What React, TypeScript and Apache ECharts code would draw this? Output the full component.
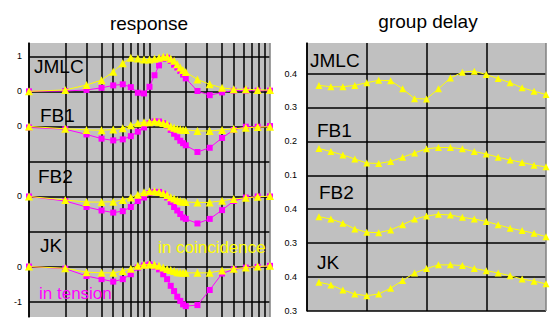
import React, { useEffect, useRef } from "react";
import * as echarts from "echarts";

// ---------- response panel (log frequency axis) ----------
const respFreq = [1, 2, 3, 4, 5, 6, 7, 8, 9, 10, 11, 12, 13, 14, 15, 16, 17, 18, 19, 20, 25, 31.6, 40, 50, 63, 79, 100];

const jmlcCoinc = [0, 0.04, 0.18, 0.32, 0.56, 0.8, 0.96, 0.94, 0.91, 0.91, 0.93, 0.96, 0.99, 0.99, 0.93, 0.87, 0.77, 0.68, 0.61, 0.55, 0.34, 0.2, 0.1, 0.06, 0.06, 0.04, 0.04];
const jmlcTens = [0, 0.01, 0.04, 0.1, 0.17, 0.2, 0.12, -0.04, -0.06, 0.13, 0.46, 0.74, 0.93, 0.96, 0.87, 0.76, 0.68, 0.58, 0.48, 0.37, 0.01, -0.11, -0.03, 0.02, 0.02, 0.02, 0.02];

const fb1Coinc = [0, -0.07, -0.1, -0.11, -0.09, -0.05, 0.03, 0.09, 0.12, 0.12, 0.15, 0.12, 0.1, 0.06, 0.0, -0.04, -0.07, -0.08, -0.1, -0.1, -0.13, -0.13, -0.1, -0.07, -0.04, -0.02, -0.01];
const fb1Tens = [-0.03, -0.08, -0.23, -0.35, -0.4, -0.37, -0.28, -0.15, -0.03, 0.09, 0.14, 0.14, 0.09, 0.02, -0.1, -0.21, -0.31, -0.41, -0.48, -0.54, -0.73, -0.61, -0.33, -0.1, -0.01, -0.01, 0.01];

const fb2Coinc = [0, -0.1, -0.16, -0.16, -0.15, -0.1, -0.03, 0.05, 0.12, 0.15, 0.15, 0.13, 0.09, 0.04, -0.02, -0.06, -0.1, -0.13, -0.15, -0.16, -0.17, -0.17, -0.12, -0.07, -0.04, -0.01, 0.01];
const fb2Tens = [0, -0.13, -0.3, -0.4, -0.46, -0.42, -0.3, -0.13, -0.03, 0.1, 0.13, 0.13, 0.08, -0.03, -0.16, -0.3, -0.4, -0.5, -0.6, -0.64, -0.77, -0.64, -0.39, -0.13, -0.03, 0, 0];

const jkCoinc = [0, -0.05, -0.16, -0.18, -0.18, -0.13, -0.06, 0.02, 0.05, 0.06, 0.05, 0.02, -0.03, -0.07, -0.1, -0.13, -0.16, -0.17, -0.18, -0.18, -0.18, -0.18, -0.11, -0.06, -0.03, 0, 0.02];
const jkTens = [0, -0.06, -0.27, -0.36, -0.43, -0.36, -0.22, -0.03, 0.03, 0.06, 0.0, -0.08, -0.22, -0.36, -0.55, -0.7, -0.86, -0.98, -1.08, -1.13, -1.1, -0.67, -0.2, -0.08, -0.03, -0.01, 0.02];

const respGridFreqs = [1, 2, 3, 4, 5, 6, 7, 8, 9, 10, 20, 30, 40, 50, 60, 70, 80, 90, 100];
const respTickValues = [1, 0, -1, -3, -5, -6];
const respTickLabels = ["1", "0", "0", "0", "0", "-1"];

// ---------- group delay panel ----------
const gdIndex = [1, 2, 3, 4, 5, 6, 7, 8, 9, 10, 11, 12, 13, 14, 15, 16, 17, 18, 19, 20];
const gdJmlc = [0.365, 0.361, 0.361, 0.365, 0.373, 0.38, 0.379, 0.355, 0.326, 0.325, 0.355, 0.387, 0.404, 0.407, 0.397, 0.385, 0.373, 0.358, 0.348, 0.338];
const gdFb1 = [0.179, 0.17, 0.16, 0.148, 0.136, 0.135, 0.141, 0.153, 0.166, 0.178, 0.182, 0.182, 0.178, 0.17, 0.163, 0.153, 0.145, 0.138, 0.13, 0.125];
const gdFb2 = [0.378, 0.371, 0.359, 0.342, 0.332, 0.331, 0.339, 0.354, 0.371, 0.38, 0.385, 0.383, 0.376, 0.371, 0.364, 0.354, 0.344, 0.337, 0.329, 0.319];
const gdJk = [0.385, 0.377, 0.362, 0.35, 0.345, 0.35, 0.367, 0.39, 0.412, 0.425, 0.436, 0.436, 0.434, 0.425, 0.419, 0.412, 0.404, 0.394, 0.388, 0.38];
const gdTickLabels = ["0.3", "0.4", "0.3", "0.4", "0.1", "0.2", "0.3", "0.4"];

const names = ["JMLC", "FB1", "FB2", "JK"];

const YELLOW = "#FFFF00";
const MAGENTA = "#FF00FF";
const FONT = "'Liberation Sans', Arial, sans-serif";

export default function App() {
  const ref = useRef<HTMLDivElement>(null);

  useEffect(() => {
    if (!ref.current) return;
    const chart = echarts.init(ref.current, undefined, { renderer: "svg" });

    // stacked panels share one axis; each sub-plot is shifted by an offset
    const respSets = [
      { c: jmlcCoinc, t: jmlcTens, off: 0 },
      { c: fb1Coinc, t: fb1Tens, off: -1 },
      { c: fb2Coinc, t: fb2Tens, off: -3 },
      { c: jkCoinc, t: jkTens, off: -5 },
    ];
    const gdSets = [
      { d: gdJmlc, base: 0.3, off: 6 },
      { d: gdFb1, base: 0.1, off: 4 },
      { d: gdFb2, base: 0.3, off: 2 },
      { d: gdJk, base: 0.3, off: 0 },
    ];

    const series: any[] = [];
    respSets.forEach((s, k) => {
      series.push({
        type: "line",
        name: names[k] + " tension",
        xAxisIndex: 0,
        yAxisIndex: 0,
        data: respFreq.map((f, i) => [f, s.t[i] + s.off]),
        symbol: "rect",
        symbolSize: 6,
        itemStyle: { color: MAGENTA },
        lineStyle: { color: MAGENTA, width: 1 },
        z: 3,
      });
    });
    respSets.forEach((s, k) => {
      series.push({
        type: "line",
        name: names[k] + " coincidence",
        xAxisIndex: 0,
        yAxisIndex: 0,
        data: respFreq.map((f, i) => [f, s.c[i] + s.off]),
        symbol: "triangle",
        symbolSize: 8,
        itemStyle: { color: YELLOW },
        lineStyle: { color: YELLOW, width: 1 },
        z: 4,
      });
    });
    gdSets.forEach((s, k) => {
      series.push({
        type: "line",
        name: names[k] + " group delay",
        xAxisIndex: 1,
        yAxisIndex: 1,
        data: gdIndex.map((x, i) => [x, (s.d[i] - s.base) * 10 + s.off]),
        symbol: "triangle",
        symbolSize: 7,
        itemStyle: { color: YELLOW },
        lineStyle: { color: YELLOW, width: 1 },
        z: 4,
      });
    });

    const respLineColors = respGridFreqs.map((f) => (f === 100 ? "#808080" : "#000"));

    const label = (text: string, x: number, y: number, size: number, color = "#000", align = "left") => ({
      type: "text",
      x,
      y,
      z: 10,
      style: { text, fontSize: size, fontFamily: FONT, fill: color, textAlign: align, textVerticalAlign: "middle" },
    });

    chart.setOption({
      animation: false,
      backgroundColor: "#fff",
      grid: [
        { left: 29, top: 43, width: 241, height: 274, show: true, backgroundColor: "#C0C0C0", borderWidth: 0 },
        { left: 307, top: 43, width: 239, height: 268, show: true, backgroundColor: "#C0C0C0", borderWidth: 0 },
      ],
      xAxis: [
        {
          type: "log",
          logBase: 10,
          gridIndex: 0,
          min: 1,
          max: 100,
          axisLine: { show: false },
          axisLabel: { show: false },
          axisTick: { show: false, customValues: respGridFreqs },
          splitLine: { show: true, lineStyle: { color: respLineColors, width: 1.5 } },
        },
        {
          type: "value",
          gridIndex: 1,
          min: 0,
          max: 20,
          interval: 5,
          axisLine: { show: false },
          axisLabel: { show: false },
          axisTick: { show: false },
          splitLine: { show: true, lineStyle: { color: ["#000", "#000", "#000", "#000", "#808080"], width: 1.5 } },
        },
      ],
      yAxis: [
        {
          type: "value",
          gridIndex: 0,
          min: -6.44,
          max: 1.38,
          axisLine: { show: true, lineStyle: { color: "#000", width: 1.5 } },
          axisTick: { show: false, customValues: [1, 0, -1, -2, -3, -4, -5, -6] },
          axisLabel: {
            customValues: respTickValues,
            fontSize: 9,
            color: "#000",
            fontFamily: FONT,
            margin: 7,
            formatter: (v: number) => {
              const i = respTickValues.indexOf(Math.round(v));
              return i >= 0 ? respTickLabels[i] : "";
            },
          },
          splitLine: { show: true, lineStyle: { color: "#000", width: 1.5 } },
        },
        {
          type: "value",
          gridIndex: 1,
          min: 0,
          max: 7.9,
          axisLine: { show: true, lineStyle: { color: "#000", width: 1.5 } },
          axisTick: { show: false, customValues: [0, 1, 2, 3, 4, 5, 6, 7] },
          axisLabel: {
            customValues: [0, 1, 2, 3, 4, 5, 6, 7],
            fontSize: 9,
            color: "#000",
            fontFamily: FONT,
            margin: 10,
            formatter: (v: number) => gdTickLabels[Math.round(v)] ?? "",
          },
          splitLine: { show: true, lineStyle: { color: "#000", width: 1.5 } },
        },
      ],
      graphic: [
        label("response", 149, 23, 19, "#000", "center"),
        label("group delay", 428, 21, 19, "#000", "center"),
        label(names[0], 34, 66, 19),
        label(names[1], 40, 115, 19),
        label(names[2], 38, 176, 19),
        label(names[3], 40, 245, 19),
        label(names[0], 310, 60, 19),
        label(names[1], 317, 130, 19),
        label(names[2], 319, 192, 19),
        label(names[3], 317, 262, 19),
        label("in coincidence", 158, 247, 17, YELLOW),
        label("in tension", 39, 293, 17, MAGENTA),
      ],
      series,
    });

    return () => chart.dispose();
  }, []);

  return <div ref={ref} style={{ position: "absolute", left: 0, top: 0, width: 559, height: 324 }} />;
}
